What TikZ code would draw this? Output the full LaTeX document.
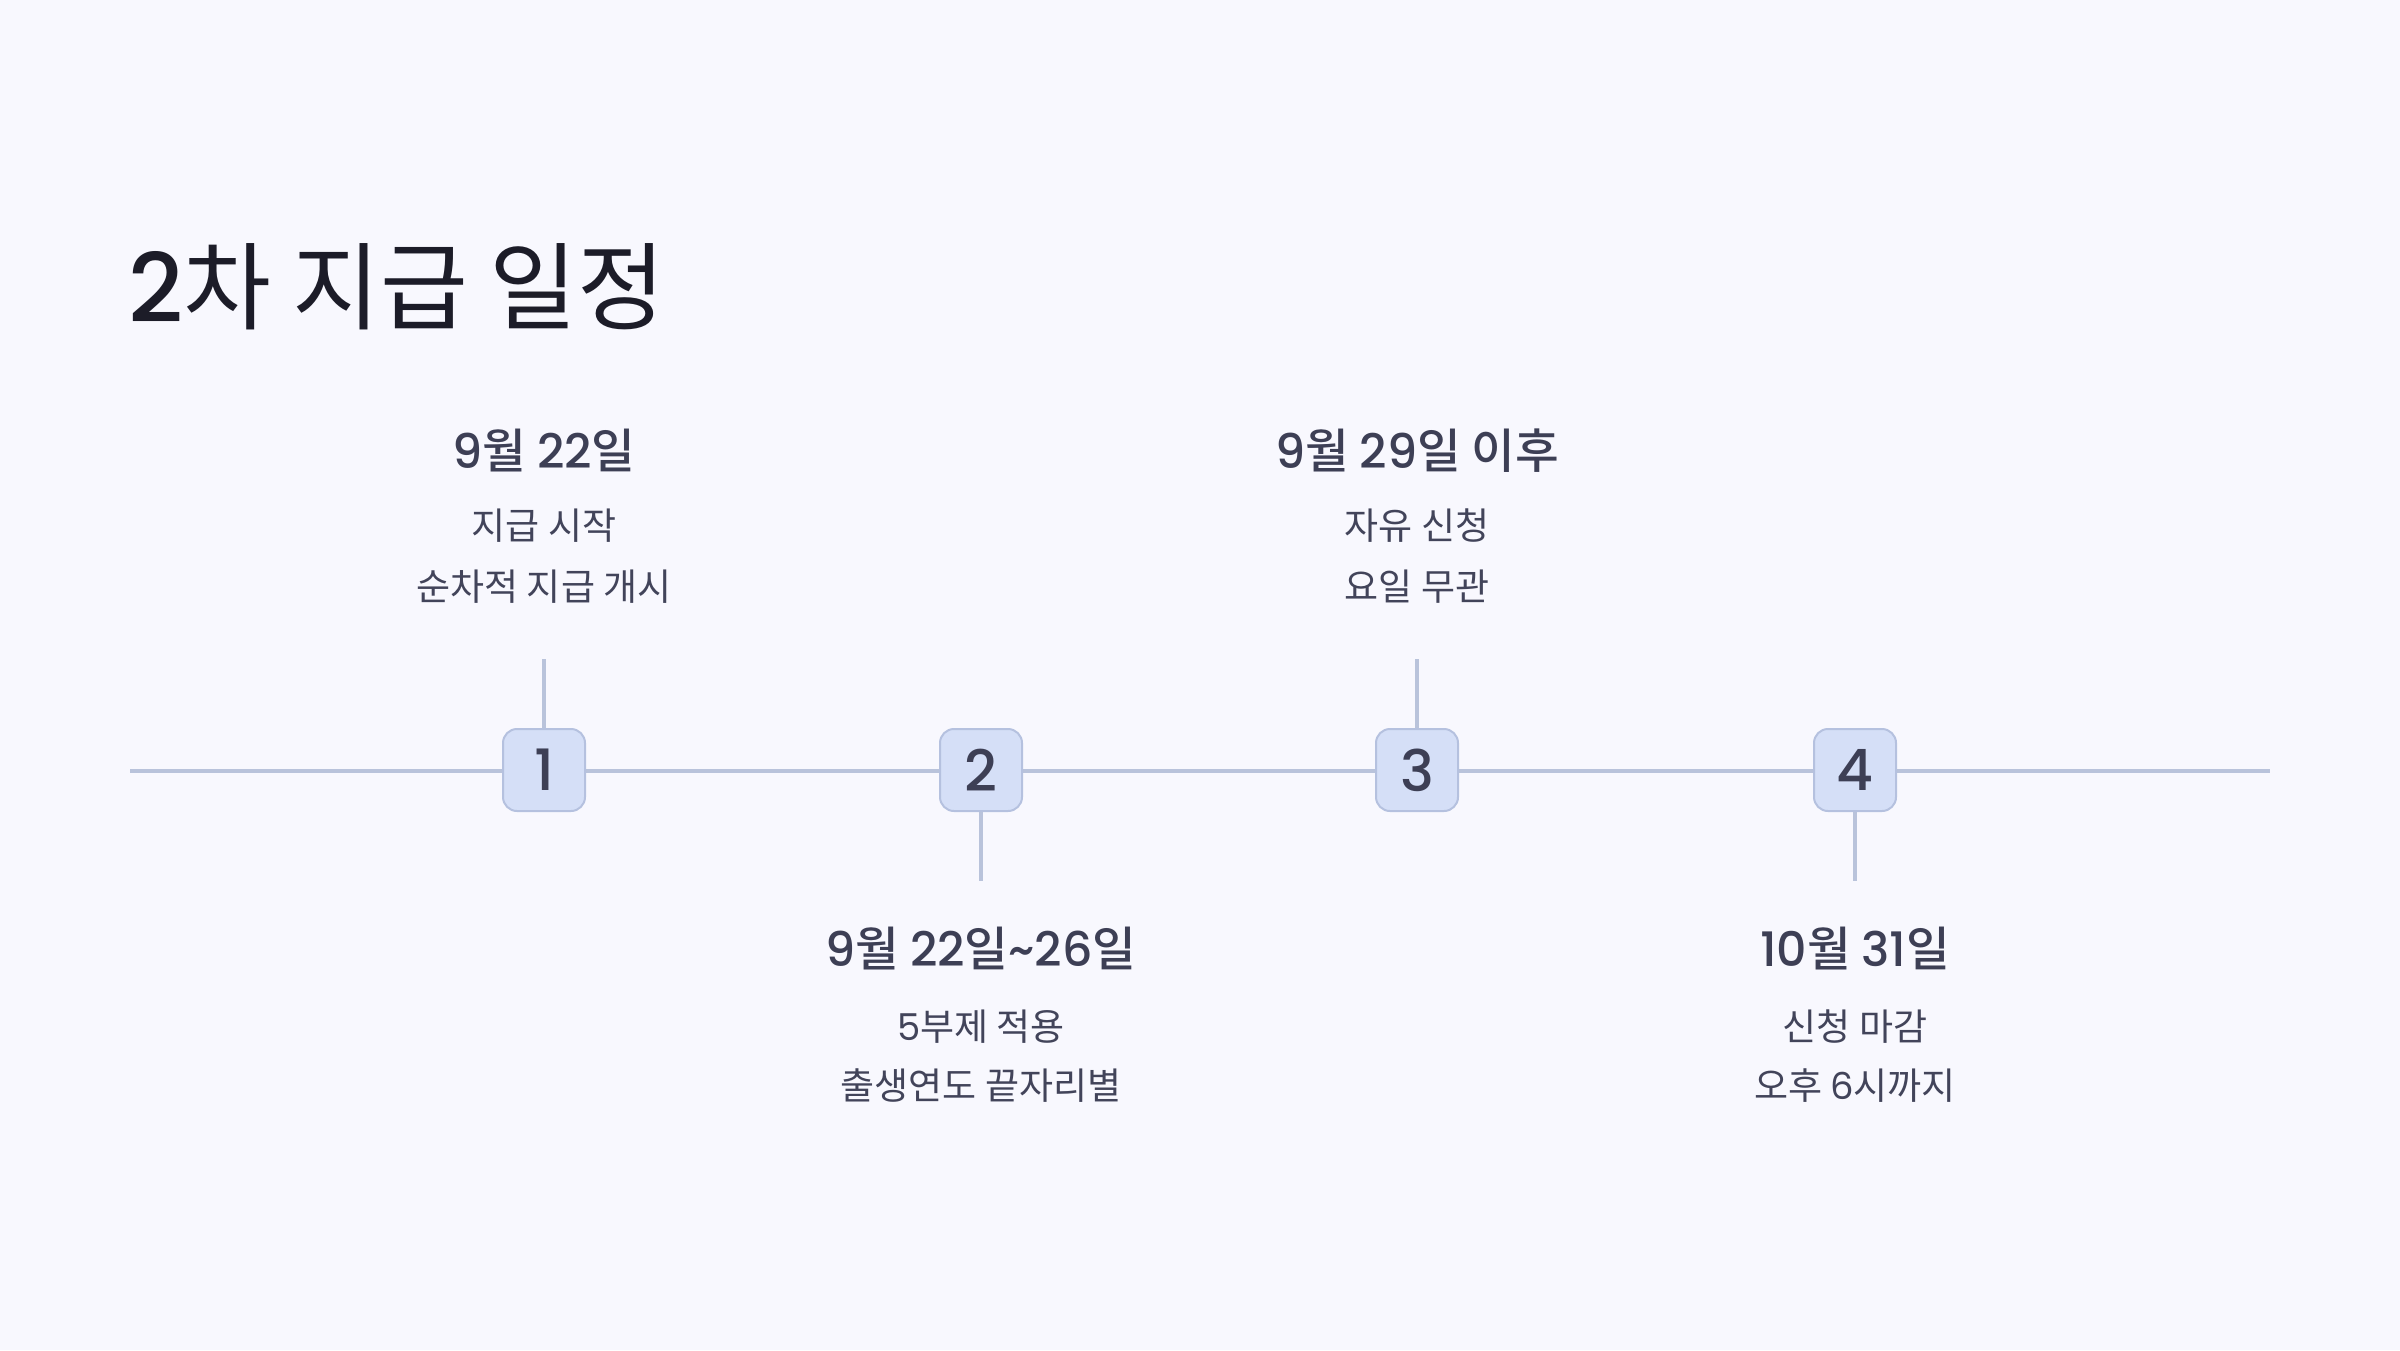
\documentclass[tikz,border=0pt]{standalone}
\usepackage{fontspec}
\setmainfont{Noto Sans CJK KR}
\newfontfamily\kr{Noto Sans CJK KR}
\newfontfamily\krm{Noto Sans CJK KR}[UprightFont={* Medium}]
\newfontfamily\pop{Poppins}
\newfontfamily\popm{Poppins}[UprightFont={* Medium}]
\definecolor{bg}{HTML}{F8F8FE}
\definecolor{linec}{HTML}{B9C3DB}
\definecolor{boxf}{HTML}{D5DFF7}
\definecolor{boxb}{HTML}{B5C1DF}
\definecolor{titlec}{HTML}{1C1C28}
\definecolor{datec}{HTML}{3D3F55}
\definecolor{descc}{HTML}{42445A}
\definecolor{numc}{HTML}{3D3F55}
\newcommand{\dg}[1]{{\popm #1}}
\newcommand{\dd}[1]{{\pop #1}}
\begin{document}
\begin{tikzpicture}[x=1pt,y=-1pt,
  tl/.style={draw=linec, line width=3.2pt},
  numbox/.style={draw=boxb, fill=boxf, line width=2pt, rounded corners=14pt,
    minimum width=82pt, minimum height=82pt, inner sep=0pt, text=numc,
    font=\popm\fontsize{57}{57}\selectfont},
  datet/.style={anchor=base, text=datec, inner sep=0pt, font=\krm\fontsize{47.5}{47.5}\selectfont},
  desct/.style={anchor=base, text=descc, inner sep=0pt, font=\kr\fontsize{37}{37}\selectfont}]
\fill[bg] (0,0) rectangle (2400,1350);
\useasboundingbox (0,0) rectangle (2400,1350);
% title
\node[anchor=base west, inner sep=0pt, text=titlec, font=\kr\fontsize{95.5}{95.5}\selectfont] (title) at (128,322) {\dg{2}차 지급 일정};
% timeline
\coordinate (L) at (130,771);
\coordinate (R) at (2270,771);
\draw[tl] (L) -- (R);
% ticks
\coordinate (t1) at (544,659);
\coordinate (t2) at (981,881);
\coordinate (t3) at (1417,659);
\coordinate (t4) at (1855,881);
% boxes
\node[numbox] (b1) at (544,770) {1};
\node[numbox] (b2) at (981,770) {2};
\node[numbox] (b3) at (1417,770) {3};
\node[numbox] (b4) at (1855,770) {4};
\draw[tl] (t1) -- (b1.north);
\draw[tl] (b2.south) -- (t2);
\draw[tl] (t3) -- (b3.north);
\draw[tl] (b4.south) -- (t4);
% item 1
\node[datet] (d1) at (544,468) {\dg{9}월 \dg{22}일};
\node[desct] (e1a) at (544,539) {지급 시작};
\node[desct] (e1b) at (544,600) {순차적 지급 개시};
% item 2
\node[datet] (d2) at (981,966) {\dg{9}월 \dg{22}일\dg{\textasciitilde 26}일};
\node[desct] (e2a) at (981,1040) {\dd{5}부제 적용};
\node[desct] (e2b) at (981,1099) {출생연도 끝자리별};
% item 3
\node[datet] (d3) at (1417,468) {\dg{9}월 \dg{29}일 이후};
\node[desct] (e3a) at (1417,539) {자유 신청};
\node[desct] (e3b) at (1417,600) {요일 무관};
% item 4
\node[datet] (d4) at (1855,966) {\dg{10}월 \dg{31}일};
\node[desct] (e4a) at (1855,1040) {신청 마감};
\node[desct] (e4b) at (1855,1099) {오후 \dd{6}시까지};
\end{tikzpicture}
\end{document}
